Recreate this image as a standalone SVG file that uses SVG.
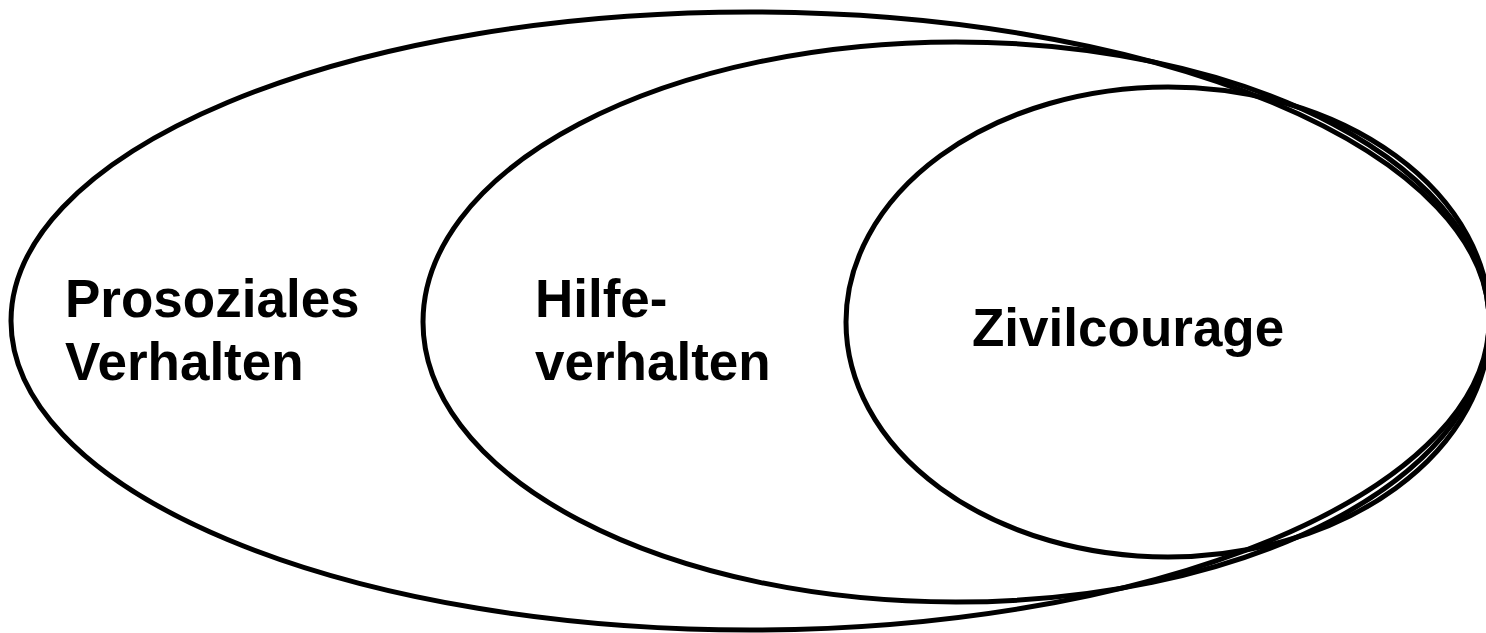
<svg xmlns="http://www.w3.org/2000/svg" width="1486" height="633" viewBox="0 0 1486 633">
<style>
.e{fill:none;stroke:#000;stroke-width:5}
.t{font-family:"Liberation Sans",Arial,sans-serif;font-weight:bold;font-size:53px;fill:#000}
</style>
<rect width="1486" height="633" fill="#fff"/>
<g id="prosozial">
<ellipse class="e" cx="750" cy="321" rx="739" ry="309"/>
<text class="t" x="65" y="317">Prosoziales</text>
<text class="t" x="65" y="380">Verhalten</text>
</g>
<g id="hilfe">
<ellipse class="e" cx="956" cy="322" rx="533" ry="280"/>
<text class="t" x="535" y="317">Hilfe-</text>
<text class="t" x="535" y="380">verhalten</text>
</g>
<g id="zivilcourage">
<ellipse class="e" cx="1168" cy="322" rx="322" ry="235"/>
<text class="t" x="972" y="346">Zivilcourage</text>
</g>
</svg>
